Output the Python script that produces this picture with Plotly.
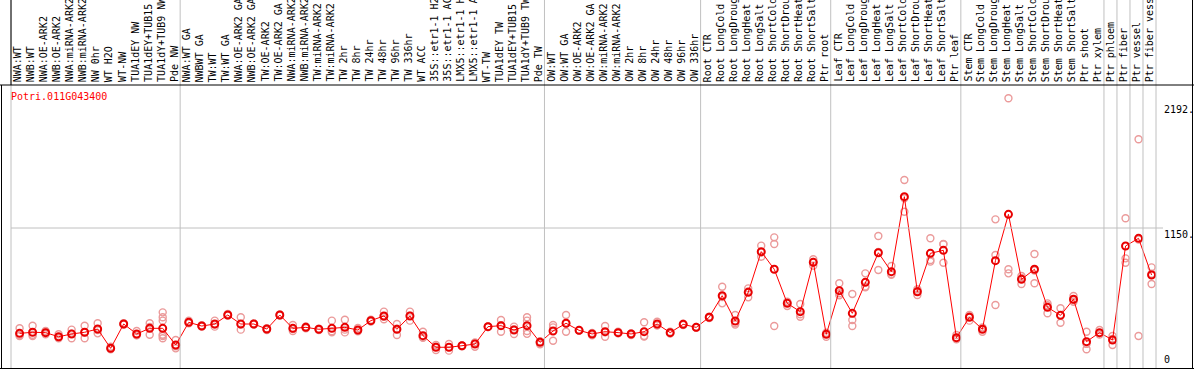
import plotly.graph_objects as go

gene = "Potri.011G043400"

labels = [
    "NWA:WT", "NWB:WT", "NWA:OE-ARK2", "NWB:OE-ARK2", "NWA:miRNA-ARK2", "NWB:miRNA-ARK2",
    "NW 0hr", "WT H2O", "WT-NW", "TUA1dEY NW", "TUA1dEY+TUB15 NW", "TUA1dY+TUB9 NW", "Pde NW",
    "NWA:WT GA", "NWBWT GA", "TW:WT", "TW:WT GA", "NWA:OE-ARK2 GA", "NWB:OE-ARK2 GA",
    "TW:OE-ARK2", "TW:OE-ARK2 GA", "NWA:miRNA-ARK2", "NWB:miRNA-ARK2", "TW:miRNA-ARK2",
    "TW:miRNA-ARK2", "TW 2hr", "TW 8hr", "TW 24hr", "TW 48hr", "TW 96hr", "TW 336hr", "WT ACC",
    "35S::etr1-1 H2O", "35S::etr1-1 ACC", "LMX5::etr1-1 H2O", "LMX5::etr1-1 ACC", "WT-TW",
    "TUA1dEY TW", "TUA1dEY+TUB15 TW", "TUA1dY+TUB9 TW", "Pde TW",
    "OW:WT", "OW:WT GA", "OW:OE-ARK2", "OW:OE-ARK2 GA", "OW:miRNA-ARK2", "OW:miRNA-ARK2",
    "OW 2hr", "OW 8hr", "OW 24hr", "OW 48hr", "OW 96hr", "OW 336hr",
    "Root CTR", "Root LongCold", "Root LongDrought", "Root LongHeat", "Root LongSalt",
    "Root ShortCold", "Root ShortDrought", "Root ShortHeat", "Root ShortSalt", "Ptr root",
    "Leaf CTR", "Leaf LongCold", "Leaf LongDrought", "Leaf LongHeat", "Leaf LongSalt",
    "Leaf ShortCold", "Leaf ShortDrought", "Leaf ShortHeat", "Leaf ShortSalt", "Ptr leaf",
    "Stem CTR", "Stem LongCold", "Stem LongDrought", "Stem LongHeat", "Stem LongSalt",
    "Stem ShortCold", "Stem ShortDrought", "Stem ShortHeat", "Stem ShortSalt", "Ptr shoot",
    "Ptr xylem", "Ptr phloem", "Ptr fiber", "Ptr vessel", "Ptr fiber vessel",
]

group_sizes = [13, 28, 12, 10, 10, 11, 1, 1, 1, 1]

means = [
    272, 281, 278, 244, 267, 281, 308, 147, 350, 267, 314, 314, 175,
    364, 333, 350, 425, 350, 350, 308, 425, 314, 322, 306, 314, 322, 300, 378, 417, 306,
    417, 253, 156, 156, 169, 183, 328, 336, 300, 336, 197,
    292, 356, 297, 267, 286, 278, 267, 286, 350, 278, 347, 322,
    406, 586, 375, 614, 953, 806, 522, 453, 864, 264,
    628, 439, 697, 944, 786, 1411, 619, 939, 964, 236,
    406, 306, 878, 1264, 722, 806, 489, 422, 556, 203, 278,
    217, 1000, 1064, 758,
]

replicates = [
    [314, 258, 250], [336, 250, 260], [292, 264, 280], [264, 231, 240], [303, 231, 270],
    [336, 231, 280], [356, 272, 300], [161, 140, 145], [356, 345, 350], [292, 258, 255],
    [356, 261, 325], [447, 406, 378, 261, 231, 250], [217, 147, 165],
    [378, 355, 360], [333, 340, 328], [328, 378, 345], [433, 420, 425], [406, 303, 345],
    [350, 345, 355], [308, 300, 315], [425, 430, 420], [342, 292, 308], [330, 315, 322],
    [300, 310, 306], [378, 281, 290], [385, 303, 280], [317, 289, 295], [385, 370, 378],
    [453, 410, 390], [350, 258, 310], [453, 378, 420], [286, 239, 235], [175, 133, 160],
    [183, 128, 157], [172, 165, 170], [197, 161, 190], [330, 325, 328], [383, 286, 340],
    [328, 267, 305], [406, 378, 292, 268], [203, 181, 207],
    [342, 211, 322], [425, 286, 356], [300, 295, 297], [275, 255, 270], [333, 244, 280],
    [285, 272, 278], [272, 258, 270], [364, 250, 245], [369, 340, 340], [285, 270, 278],
    [352, 342, 347], [325, 318, 322],
    [411, 400, 406], [661, 522, 575], [425, 356, 345], [647, 572, 622], [1003, 911, 945],
    [1072, 1017, 333], [536, 500, 530], [517, 411, 431], [889, 836, 867], [278, 244, 270],
    [689, 606, 590], [600, 383, 333], [772, 656, 663], [1083, 800, 950], [833, 767, 760],
    [1550, 1286, 1397], [592, 625, 640], [1064, 883, 870], [1017, 861, 1014], [258, 222, 228],
    [425, 378, 415], [322, 286, 310], [1222, 925, 508], [2231, 806, 772], [750, 683, 733],
    [933, 689, 796], [522, 439, 506], [481, 361, 424], [583, 536, 549], [286, 139, 184],
    [300, 272, 262], [250, 175, 226], [1231, 897, 861], [1889, 250, 1053], [822, 683, 769],
]

ytick_vals = [2192, 1150, 0]
ytick_text = ["2192.", "1150.", "0"]
grid_value = 1150

# ---------------- layout geometry ----------------
W, H = 1194, 370
ML, MR, MT, MB = 11, 38, 85, 2
PW, PH = W - ML - MR, H - MT - MB
N = len(labels)
PT_OFF = 0.66
LBL_OFF = 0.56
Y0, Y1 = -16.7, 2341.7
FONT = "DejaVu Sans Mono"
GRAY = "#c0c0c0"

def px_to_paper_x(px):
    return (px - ML) / PW

def px_to_paper_y(py):
    return 1 - (py - MT) / PH

xs = [i + PT_OFF for i in range(N)]

rep_x, rep_y = [], []
for i, reps in enumerate(replicates):
    for v in reps:
        rep_x.append(xs[i])
        rep_y.append(v)

fig = go.Figure()
fig.add_trace(go.Scatter(
    x=rep_x, y=rep_y, mode="markers",
    marker=dict(symbol="circle-open", size=7, color="#eb9a9a", line=dict(width=1.4, color="#eb9a9a")),
    hoverinfo="skip", showlegend=False,
))
fig.add_trace(go.Scatter(
    x=xs, y=means, mode="lines+markers",
    line=dict(color="#ff0000", width=1),
    marker=dict(symbol="circle-open", size=7, color="#e80000", line=dict(width=2, color="#e80000")),
    showlegend=False,
))

shapes = []
top_paper = px_to_paper_y(0)
b = 0
bounds = [0]
for g in group_sizes:
    b += g
    bounds.append(b)
for bd in bounds:
    xp = bd / N
    shapes.append(dict(type="line", xref="paper", yref="paper", x0=xp, x1=xp, y0=0, y1=top_paper,
                       line=dict(color=GRAY, width=1)))
shapes.append(dict(type="line", xref="paper", yref="y", x0=0, x1=px_to_paper_x(1163),
                   y0=grid_value, y1=grid_value, line=dict(color=GRAY, width=1)))
shapes.append(dict(type="line", xref="paper", yref="paper", x0=0, x1=0, y0=1, y1=top_paper,
                   line=dict(color="black", width=1)))
shapes.append(dict(type="line", xref="paper", yref="paper", x0=px_to_paper_x(0), x1=px_to_paper_x(W),
                   y0=1, y1=1, line=dict(color="black", width=1)))
shapes.append(dict(type="line", xref="paper", yref="paper", x0=px_to_paper_x(0), x1=px_to_paper_x(W),
                   y0=px_to_paper_y(368.5), y1=px_to_paper_y(368.5), line=dict(color="black", width=1)))
shapes.append(dict(type="line", xref="paper", yref="paper", x0=px_to_paper_x(1.5), x1=px_to_paper_x(1.5),
                   y0=0, y1=1, line=dict(color="black", width=1)))
shapes.append(dict(type="line", xref="paper", yref="paper", x0=px_to_paper_x(1192.5), x1=px_to_paper_x(1192.5),
                   y0=0, y1=top_paper, line=dict(color="black", width=1)))

annotations = []
for i, lab in enumerate(labels):
    annotations.append(dict(
        x=i + LBL_OFF, xref="x", y=px_to_paper_y(83), yref="paper",
        text=lab, textangle=-90, showarrow=False, xanchor="center", yanchor="bottom",
        font=dict(family=FONT, size=10, color="black"), borderpad=0,
    ))
annotations.append(dict(
    x=px_to_paper_x(10), xref="paper", y=px_to_paper_y(97), yref="paper",
    text=gene, showarrow=False, xanchor="left", yanchor="middle",
    font=dict(family=FONT, size=10, color="#ff0000"), borderpad=0,
))
for v, t in zip(ytick_vals, ytick_text):
    annotations.append(dict(
        x=px_to_paper_x(1163), xref="paper", y=v, yref="y",
        text=t, showarrow=False, xanchor="left", yanchor="bottom" if v == 0 else "top",
        font=dict(family=FONT, size=10, color="black"), borderpad=0,
    ))

fig.update_layout(
    width=W, height=H,
    margin=dict(l=ML, r=MR, t=MT, b=MB, pad=0),
    paper_bgcolor="white", plot_bgcolor="white",
    xaxis=dict(range=[0, N], showgrid=False, zeroline=False, showticklabels=False,
               showline=False, ticks="", fixedrange=True),
    yaxis=dict(range=[Y0, Y1], showgrid=False, zeroline=False, showticklabels=False,
               showline=False, ticks="", fixedrange=True),
    shapes=shapes, annotations=annotations, showlegend=False,
)

fig.write_html(
    "out.html",
    config={"displayModeBar": False},
    post_script="document.body.style.margin='0px';document.body.style.overflow='hidden';",
)
